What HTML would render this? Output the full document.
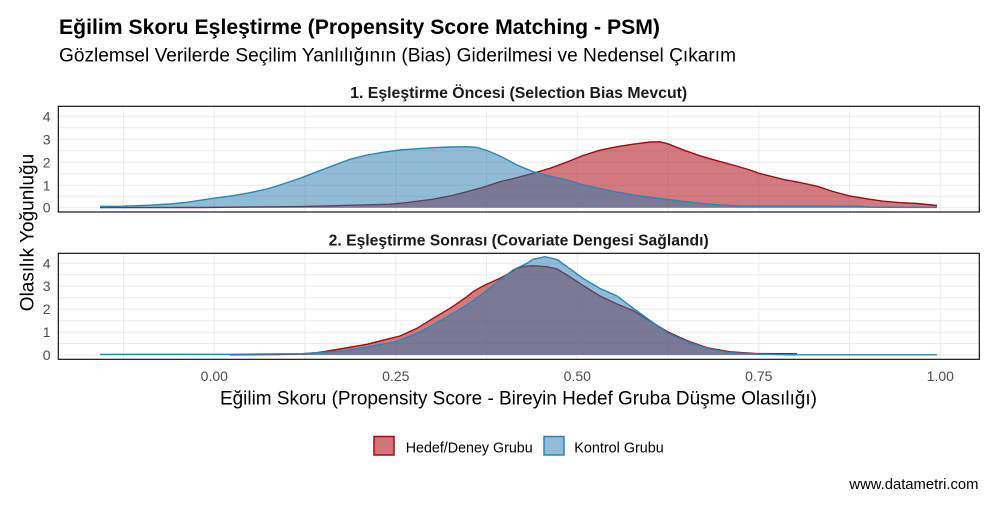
<!DOCTYPE html>
<html>
<head>
<meta charset="utf-8">
<style>
  html, body { margin:0; padding:0; background:#ffffff; }
  svg { display:block; }
  text { font-family: "Liberation Sans", "DejaVu Sans", sans-serif; }
</style>
</head>
<body>
<svg width="995" height="505" viewBox="0 0 995 505" xmlns="http://www.w3.org/2000/svg">
  <rect x="0" y="0" width="995" height="505" fill="#ffffff"/>

  <!-- Titles -->
  <text x="59" y="34" font-size="21" font-weight="bold" fill="#000" textLength="601" lengthAdjust="spacingAndGlyphs">Eğilim Skoru Eşleştirme (Propensity Score Matching - PSM)</text>
  <text x="59" y="61.5" font-size="19" fill="#000" textLength="677" lengthAdjust="spacingAndGlyphs">Gözlemsel Verilerde Seçilim Yanlılığının (Bias) Giderilmesi ve Nedensel Çıkarım</text>

  <!-- Strip titles -->
  <text x="518.7" y="98" font-size="15.5" font-weight="bold" fill="#1a1a1a" text-anchor="middle" textLength="337" lengthAdjust="spacingAndGlyphs">1. Eşleştirme Öncesi (Selection Bias Mevcut)</text>
  <text x="518.7" y="245.5" font-size="15.5" font-weight="bold" fill="#1a1a1a" text-anchor="middle" textLength="380" lengthAdjust="spacingAndGlyphs">2. Eşleştirme Sonrası (Covariate Dengesi Sağlandı)</text>

  <defs>
    <clipPath id="c1"><rect x="58.3" y="106.3" width="921" height="105.7"/></clipPath>
    <clipPath id="c2"><rect x="58.3" y="253.3" width="921" height="106"/></clipPath>
  </defs>

  <!-- ===== Panel 1 ===== -->
  <g clip-path="url(#c1)">
    <g stroke="#ebebeb" stroke-width="1" fill="none">
      <line x1="58" x2="980" y1="207.7" y2="207.7"/>
      <line x1="58" x2="980" y1="196.3" y2="196.3"/>
      <line x1="58" x2="980" y1="185.3" y2="185.3"/>
      <line x1="58" x2="980" y1="173.7" y2="173.7"/>
      <line x1="58" x2="980" y1="162.3" y2="162.3"/>
      <line x1="58" x2="980" y1="150.7" y2="150.7"/>
      <line x1="58" x2="980" y1="139.3" y2="139.3"/>
      <line x1="58" x2="980" y1="127.7" y2="127.7"/>
      <line x1="58" x2="980" y1="116.3" y2="116.3"/>
      <line y1="106" y2="213" x1="123.5" x2="123.5"/>
      <line y1="106" y2="213" x1="214.3" x2="214.3"/>
      <line y1="106" y2="213" x1="305" x2="305"/>
      <line y1="106" y2="213" x1="395.8" x2="395.8"/>
      <line y1="106" y2="213" x1="486.5" x2="486.5"/>
      <line y1="106" y2="213" x1="577.3" x2="577.3"/>
      <line y1="106" y2="213" x1="668" x2="668"/>
      <line y1="106" y2="213" x1="758.8" x2="758.8"/>
      <line y1="106" y2="213" x1="849.5" x2="849.5"/>
      <line y1="106" y2="213" x1="940.3" x2="940.3"/>
    </g>
    <!-- Red (treatment) -->
    <polygon fill="#b01a22" fill-opacity="0.58" points="100,207.7 100,207.6 200,207.5 270,206.8 300,206.6 326,206 353,205.2 390,204.2 407,202.6 433,199.2 450,196 467,191.7 483,187.3 500,181.7 517,177.7 533,173.3 550,168.3 567,162 583,155.5 600,150.2 617,146.7 633,144.2 650,142 660,141.8 668,143.8 683,149.8 700,155.8 717,160.7 733,165 750,170 759,173.3 783,179.3 800,182.5 817,186.2 833,191.5 849,195.8 867,198.8 883,201.2 900,202.7 917,203.5 937,205.5 937,207.7"/>
    <polyline fill="none" stroke="#a00a14" stroke-width="1.4" points="100,207.6 200,207.5 270,206.8 300,206.6 326,206 353,205.2 390,204.2 407,202.6 433,199.2 450,196 467,191.7 483,187.3 500,181.7 517,177.7 533,173.3 550,168.3 567,162 583,155.5 600,150.2 617,146.7 633,144.2 650,142 660,141.8 668,143.8 683,149.8 700,155.8 717,160.7 733,165 750,170 759,173.3 783,179.3 800,182.5 817,186.2 833,191.5 849,195.8 867,198.8 883,201.2 900,202.7 917,203.5 937,205.5"/>
    <!-- Blue (control) -->
    <polygon fill="#2579ad" fill-opacity="0.5" points="100,207.7 100,206.5 123,206.2 147,205.3 170,204 187,202.3 213,198.3 233,195.7 250,192.7 267,189 283,184 300,178.3 317,171.7 333,165.7 350,159.3 367,155 383,152.3 400,150 417,148.7 433,147.7 450,147 467,146.7 477,147.5 487,150.5 500,156 517,165 533,171.7 550,176 567,180 583,184.7 600,188.7 617,192 633,195 650,197.3 667,199.3 683,201.3 700,203.3 720,205 740,206 858,206.2 870,207.2 937,207.4 937,207.7"/>
    <polyline fill="none" stroke="#2a86b8" stroke-width="1.4" points="100,206.5 123,206.2 147,205.3 170,204 187,202.3 213,198.3 233,195.7 250,192.7 267,189 283,184 300,178.3 317,171.7 333,165.7 350,159.3 367,155 383,152.3 400,150 417,148.7 433,147.7 450,147 467,146.7 477,147.5 487,150.5 500,156 517,165 533,171.7 550,176 567,180 583,184.7 600,188.7 617,192 633,195 650,197.3 667,199.3 683,201.3 700,203.3 720,205 740,206 858,206.2 870,207.2 937,207.4"/>
  </g>
  <rect x="58.3" y="106.3" width="921" height="105.7" fill="none" stroke="#000" stroke-width="1.1"/>

  <!-- ===== Panel 2 ===== -->
  <g clip-path="url(#c2)">
    <g stroke="#ebebeb" stroke-width="1" fill="none">
      <line x1="58" x2="980" y1="355" y2="355"/>
      <line x1="58" x2="980" y1="343.5" y2="343.5"/>
      <line x1="58" x2="980" y1="332.2" y2="332.2"/>
      <line x1="58" x2="980" y1="320.7" y2="320.7"/>
      <line x1="58" x2="980" y1="309.1" y2="309.1"/>
      <line x1="58" x2="980" y1="297.6" y2="297.6"/>
      <line x1="58" x2="980" y1="286.1" y2="286.1"/>
      <line x1="58" x2="980" y1="274.7" y2="274.7"/>
      <line x1="58" x2="980" y1="263.3" y2="263.3"/>
      <line y1="253" y2="360" x1="123.5" x2="123.5"/>
      <line y1="253" y2="360" x1="214.3" x2="214.3"/>
      <line y1="253" y2="360" x1="305" x2="305"/>
      <line y1="253" y2="360" x1="395.8" x2="395.8"/>
      <line y1="253" y2="360" x1="486.5" x2="486.5"/>
      <line y1="253" y2="360" x1="577.3" x2="577.3"/>
      <line y1="253" y2="360" x1="668" x2="668"/>
      <line y1="253" y2="360" x1="758.8" x2="758.8"/>
      <line y1="253" y2="360" x1="849.5" x2="849.5"/>
      <line y1="253" y2="360" x1="940.3" x2="940.3"/>
    </g>
    <!-- Red -->
    <polygon fill="#b01a22" fill-opacity="0.58" points="230,355 230,354.8 275,354.6 300,354 317,352.7 340,349 367,344.3 400,336 417,328.3 433,318.3 450,308.3 467,296.7 473,291.7 483,286 500,278.3 510,272.7 517,268.3 525,266.2 533,265.7 547,266.7 557,269 567,275 583,285.5 600,296 617,304 633,310.5 650,321 667,331.5 680,337.5 690,341.8 707,347.7 730,351.8 757,353.6 797,353.8 797,355"/>
    <polyline fill="none" stroke="#a00a14" stroke-width="1.4" points="230,354.8 275,354.6 300,354 317,352.7 340,349 367,344.3 400,336 417,328.3 433,318.3 450,308.3 467,296.7 473,291.7 483,286 500,278.3 510,272.7 517,268.3 525,266.2 533,265.7 547,266.7 557,269 567,275 583,285.5 600,296 617,304 633,310.5 650,321 667,331.5 680,337.5 690,341.8 707,347.7 730,351.8 757,353.6 797,353.8"/>
    <!-- Blue -->
    <polygon fill="#2579ad" fill-opacity="0.5" points="100,355 100,354.4 230,354.3 280,353.8 300,353.8 343,351 367,347 396,341.7 417,333.3 433,325 450,315 467,305 483,293.3 500,280 513,270 527,263.3 533,259.3 545,256.7 557,259.5 567,266.7 583,278.3 600,288.5 617,296 633,308 650,320.5 667,332.5 680,338.5 690,342.7 707,348.3 730,352.7 757,354 790,354.8 937,354.8 937,355"/>
    <polyline fill="none" stroke="#2a86b8" stroke-width="1.4" points="100,354.4 230,354.3 280,353.8 300,353.8 343,351 367,347 396,341.7 417,333.3 433,325 450,315 467,305 483,293.3 500,280 513,270 527,263.3 533,259.3 545,256.7 557,259.5 567,266.7 583,278.3 600,288.5 617,296 633,308 650,320.5 667,332.5 680,338.5 690,342.7 707,348.3 730,352.7 757,354 790,354.8 937,354.8"/>
  </g>
  <rect x="58.3" y="253.3" width="921" height="106" fill="none" stroke="#000" stroke-width="1.1"/>

  <!-- Y tick labels -->
  <g font-size="14" fill="#4d4d4d" text-anchor="end">
    <text x="50.5" y="212.7">0</text>
    <text x="50.5" y="190.3">1</text>
    <text x="50.5" y="167.3">2</text>
    <text x="50.5" y="144.3">3</text>
    <text x="50.5" y="121.3">4</text>
    <text x="50.5" y="360">0</text>
    <text x="50.5" y="337.2">1</text>
    <text x="50.5" y="314.1">2</text>
    <text x="50.5" y="291.1">3</text>
    <text x="50.5" y="268.3">4</text>
  </g>

  <!-- X tick labels -->
  <g font-size="14" fill="#4d4d4d" text-anchor="middle">
    <text x="214.3" y="381">0.00</text>
    <text x="395.8" y="381">0.25</text>
    <text x="577.3" y="381">0.50</text>
    <text x="758.8" y="381">0.75</text>
    <text x="940.3" y="381">1.00</text>
  </g>

  <!-- Axis titles -->
  <text x="518.5" y="404.5" font-size="19" fill="#000" text-anchor="middle" textLength="597" lengthAdjust="spacingAndGlyphs">Eğilim Skoru (Propensity Score - Bireyin Hedef Gruba Düşme Olasılığı)</text>
  <text transform="translate(33.5,232.5) rotate(-90)" x="0" y="0" font-size="19" fill="#000" text-anchor="middle">Olasılık Yoğunluğu</text>

  <!-- Legend -->
  <rect x="374" y="436.5" width="20" height="18.5" fill="#d27478" stroke="#a00a14" stroke-width="1.5"/>
  <text x="405.7" y="452.7" font-size="14.3" fill="#000" textLength="127" lengthAdjust="spacingAndGlyphs">Hedef/Deney Grubu</text>
  <rect x="544" y="436.5" width="20" height="18.5" fill="#94bcd6" stroke="#2a86b8" stroke-width="1.5"/>
  <text x="574.3" y="452.7" font-size="14.3" fill="#000" textLength="89.5" lengthAdjust="spacingAndGlyphs">Kontrol Grubu</text>

  <!-- Caption -->
  <text x="978.5" y="489" font-size="14.8" fill="#000" text-anchor="end">www.datametri.com</text>
</svg>
</body>
</html>
